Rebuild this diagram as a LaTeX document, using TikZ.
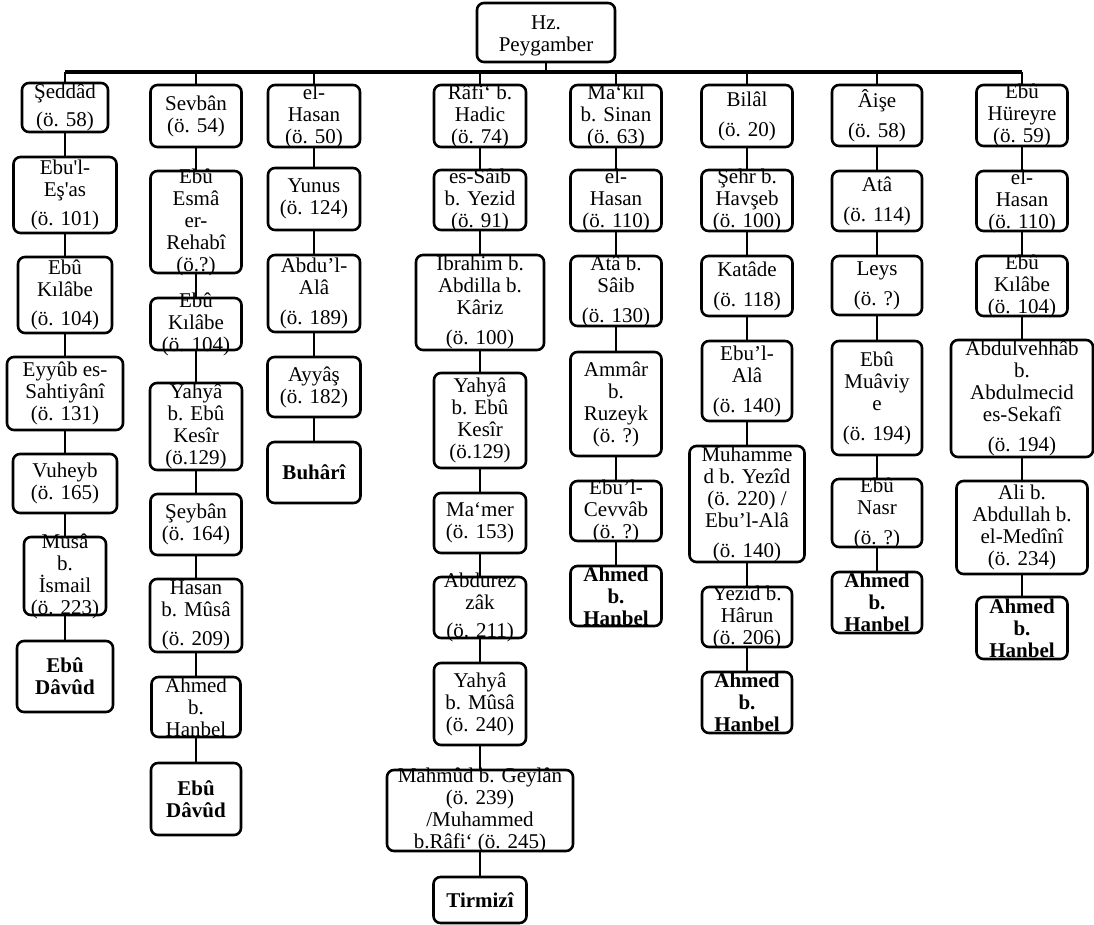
\documentclass[tikz,border=0pt]{standalone}
\usepackage{fontspec}
\setmainfont{Liberation Serif}
% one rounded box of the chain with its (possibly overflowing) text
% #1 text options, #2 name, #3 centre x, #4 top, #5 bottom, #6 width, #7 text
\newcommand\isnadbox[7][]{%
  \node[box, minimum width=#6pt, minimum height={(#5-#4)*1pt}] (#2) at (#3,{(#4+#5)/2}) {};
  \node[txt,#1] (#2t) at (#2.center) {#7};}
\begin{document}
\begin{tikzpicture}[x=1pt,y=-1pt,
  box/.style={draw, line width=2.6pt, rounded corners=7pt, inner sep=0pt},
  txt/.style={align=center, inner sep=0pt, font=\fontsize{21}{22}\selectfont},
  bold/.style={font=\fontsize{21}{22}\selectfont\bfseries},
  link/.style={line width=2.6pt},
  trunk/.style={line width=3.2pt}]
\fill[white] (0,0) rectangle (1094,925);
\useasboundingbox (0,0) rectangle (1094,925);

% root
\isnadbox[yshift=-3pt]{root}{546}{3}{62}{138}{Hz.\\Peygamber}

% column 1
\isnadbox{a1}{65}{83}{132}{86}{Şeddâd\\[6pt](ö. 58)}
\isnadbox{a2}{65}{157}{233}{103}{Ebu\textquotesingle l-\\Eş\textquotesingle as\\[7pt](ö. 101)}
\isnadbox{a3}{65}{257}{333}{94}{Ebû\\Kılâbe\\[7pt](ö. 104)}
\isnadbox{a4}{65}{357}{430}{116}{Eyyûb es-\\Sahtiyânî\\(ö. 131)}
\isnadbox{a5}{65}{454}{513}{104}{Vuheyb\\(ö. 165)}
\isnadbox{a6}{65}{537}{615}{82}{Musâ\\b.\\İsmail\\(ö. 223)}
\isnadbox[bold]{a7}{65}{641}{712}{96}{Ebû\\Dâvûd}

% column 2
\isnadbox{b1}{196}{85}{147}{91}{Sevbân\\(ö. 54)}
\isnadbox{b2}{196}{171}{273}{91}{Ebû\\Esmâ\\er-\\Rehabî\\(ö.?)}
\isnadbox{b3}{196}{298}{350}{91}{Ebû\\Kılâbe\\(ö. 104)}
\isnadbox{b4}{196}{383}{470}{92}{Yahyâ\\b. Ebû\\Kesîr\\(ö.129)}
\isnadbox{b5}{196}{494}{555}{91}{Şeybân\\(ö. 164)}
\isnadbox{b6}{196}{579}{652}{92}{Hasan\\b. Mûsâ\\[7pt](ö. 209)}
\isnadbox{b7}{196}{677}{737}{89}{Ahmed\\b.\\Hanbel}
\isnadbox[bold]{b8}{196}{763}{835}{90}{Ebû\\Dâvûd}

% column 3
\isnadbox{c1}{314}{85}{147}{92}{el-\\Hasan\\(ö. 50)}
\isnadbox{c2}{314}{168}{230}{92}{Yunus\\(ö. 124)}
\isnadbox{c3}{314}{255}{332}{92}{Abdu’l-\\Alâ\\[8pt](ö. 189)}
\isnadbox{c4}{314}{357}{417}{93}{Ayyâş\\(ö. 182)}
\isnadbox[bold]{c5}{314}{442}{503}{93}{Buhârî}

% column 4
\isnadbox{d1}{480}{85}{147}{92}{Râfi‘ b.\\Hadic\\(ö. 74)}
\isnadbox{d2}{480}{170}{230}{92}{es-Sâib\\b. Yezid\\(ö. 91)}
\isnadbox{d3}{480}{255}{350}{128}{Ibrahim b.\\Abdilla b.\\Kâriz\\[8pt](ö. 100)}
\isnadbox{d4}{480}{373}{468}{92}{Yahyâ\\b. Ebû\\Kesîr\\(ö.129)}
\isnadbox{d5}{480}{493}{553}{92}{Ma‘mer\\(ö. 153)}
\isnadbox{d6}{480}{577}{638}{92}{Abdurez\\zâk\\[6pt](ö. 211)}
\isnadbox{d7}{480}{663}{745}{92}{Yahyâ\\b. Mûsâ\\(ö. 240)}
\isnadbox{d8}{480}{770}{851}{186}{Mahmûd b. Geylân\\(ö. 239)\\/Muhammed\\b.Râfi‘ (ö. 245)}
\isnadbox[bold]{d9}{480}{877}{923}{93}{Tirmizî}

% column 5
\isnadbox{e1}{616}{85}{147}{91}{Ma‘kıl\\b. Sinan\\(ö. 63)}
\isnadbox{e2}{616}{170}{231}{91}{el-\\Hasan\\(ö. 110)}
\isnadbox{e3}{616}{256}{326}{91}{Atâ b.\\Sâib\\[8pt](ö. 130)}
\isnadbox{e4}{616}{352}{456}{91}{Ammâr\\b.\\Ruzeyk\\(ö. ?)}
\isnadbox{e5}{616}{481}{541}{91}{Ebu’l-\\Cevvâb\\(ö. ?)}
\isnadbox[bold]{e6}{616}{566}{626}{91}{Ahmed\\b.\\Hanbel}

% column 6
\isnadbox{f1}{747}{85}{147}{91}{Bilâl\\[8pt](ö. 20)}
\isnadbox{f2}{747}{170}{231}{91}{Şehr b.\\Havşeb\\(ö. 100)}
\isnadbox{f3}{747}{256}{316}{91}{Katâde\\[8pt](ö. 118)}
\isnadbox{f4}{747}{341}{421}{90}{Ebu’l-\\Alâ\\[8pt](ö. 140)}
\isnadbox{f5}{747}{446}{562}{115}{Muhamme\\d b. Yezîd\\(ö. 220) /\\Ebu’l-Alâ\\[8pt](ö. 140)}
\isnadbox{f6}{747}{587}{647}{90}{Yezîd b.\\Hârun\\(ö. 206)}
\isnadbox[bold]{f7}{747}{672}{733}{90}{Ahmed\\b.\\Hanbel}

% column 7
\isnadbox{g1}{877}{85}{146}{90}{Âişe\\[8pt](ö. 58)}
\isnadbox{g2}{877}{171}{231}{90}{Atâ\\[8pt](ö. 114)}
\isnadbox{g3}{877}{256}{315}{90}{Leys\\[8pt](ö. ?)}
\isnadbox{g4}{877}{341}{455}{90}{Ebû\\Muâviy\\e\\[8pt](ö. 194)}
\isnadbox{g5}{877}{479}{547}{90}{Ebû\\Nasr\\[8pt](ö. ?)}
\isnadbox[bold]{g6}{877}{572}{633}{90}{Ahmed\\b.\\Hanbel}

% column 8
\isnadbox{h1}{1022}{85}{146}{91}{Ebû\\Hüreyre\\(ö. 59)}
\isnadbox{h2}{1022}{171}{231}{91}{el-\\Hasan\\(ö. 110)}
\isnadbox{h3}{1022}{256}{316}{91}{Ebû\\Kılâbe\\(ö. 104)}
\isnadbox{h4}{1022}{340}{457}{142}{Abdulvehhâb\\b.\\Abdulmecid\\es-Sekafî\\[8pt](ö. 194)}
\isnadbox{h5}{1022}{481}{574}{131}{Ali b.\\Abdullah b.\\el-Medînî\\(ö. 234)}
\isnadbox[bold]{h6}{1022}{597}{659}{91}{Ahmed\\b.\\Hanbel}

% horizontal trunk under the root
\coordinate (barL) at (65,72);
\coordinate (barR) at (1022,72);
\draw[trunk] (barL) -- (barR);
\draw[link] (root.south) -- (root.south |- barL);
\foreach \n in {a1,b1,c1,d1,e1,f1,g1,h1}
  \draw[link] (\n.north) -- (\n.north |- barL);

% links down each chain
\foreach \u/\v in {a1/a2,a2/a3,a3/a4,a4/a5,a5/a6,a6/a7,
                   b1/b2,b2/b3,b3/b4,b4/b5,b5/b6,b6/b7,b7/b8,
                   c1/c2,c2/c3,c3/c4,c4/c5,
                   d1/d2,d2/d3,d3/d4,d4/d5,d5/d6,d6/d7,d7/d8,d8/d9,
                   e1/e2,e2/e3,e3/e4,e4/e5,e5/e6,
                   f1/f2,f2/f3,f3/f4,f4/f5,f5/f6,f6/f7,
                   g1/g2,g2/g3,g3/g4,g4/g5,g5/g6,
                   h1/h2,h2/h3,h3/h4,h4/h5,h5/h6}
  \draw[link] (\u.south) -- (\v.north);
\end{tikzpicture}
\end{document}
